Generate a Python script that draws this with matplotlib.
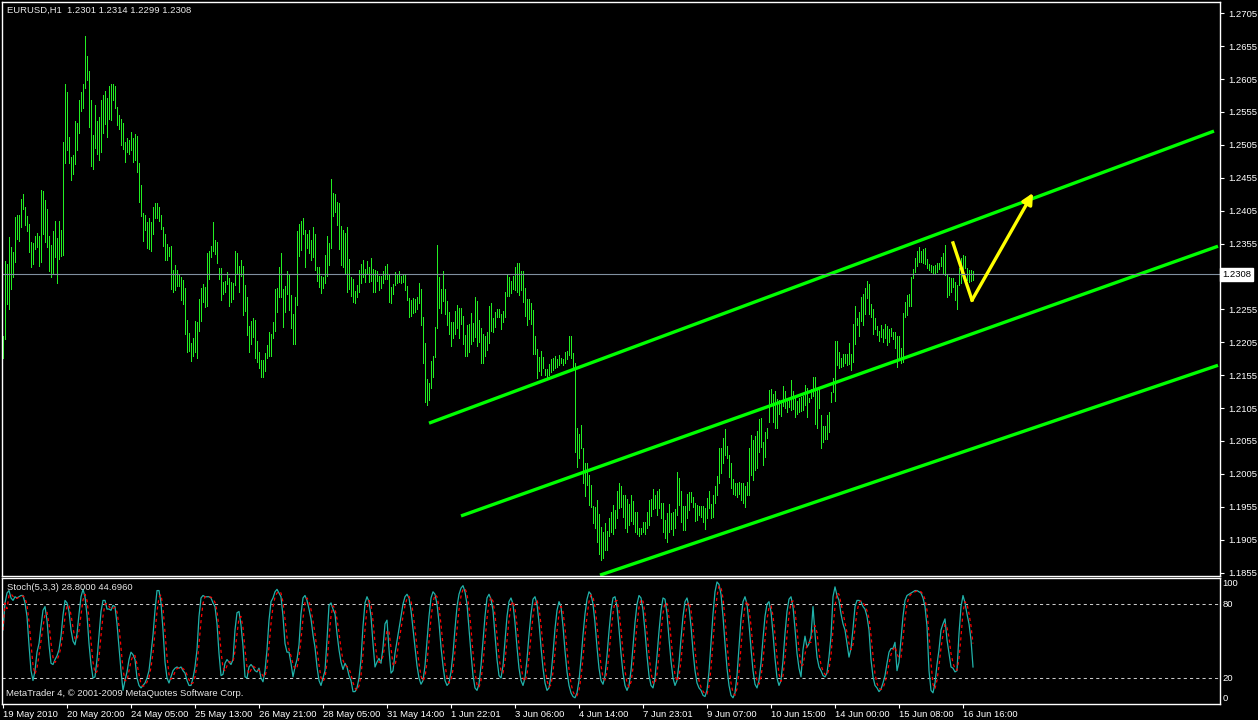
import numpy as np
import matplotlib
matplotlib.use("Agg")
import matplotlib.pyplot as plt

# hourly bars, EURUSD H1, 19 May - 16 Jun 2010
high = [
    1.2214, 1.2328, 1.2324, 1.2365, 1.2350, 1.2342, 1.2395, 1.2398, 1.2398, 1.2422,
    1.2430, 1.2410, 1.2397, 1.2385, 1.2357, 1.2356, 1.2366, 1.2371, 1.2366, 1.2436,
    1.2435, 1.2421, 1.2407, 1.2366, 1.2353, 1.2374, 1.2389, 1.2363, 1.2389, 1.2375,
    1.2509, 1.2597, 1.2585, 1.2517, 1.2486, 1.2489, 1.2541, 1.2538, 1.2573, 1.2585,
    1.2597, 1.2670, 1.2640, 1.2617, 1.2573, 1.2520, 1.2565, 1.2541, 1.2547, 1.2573,
    1.2581, 1.2587, 1.2576, 1.2594, 1.2597, 1.2597, 1.2594, 1.2562, 1.2550, 1.2544,
    1.2538, 1.2509, 1.2515, 1.2512, 1.2524, 1.2515, 1.2521, 1.2518, 1.2477, 1.2444,
    1.2401, 1.2398, 1.2388, 1.2394, 1.2388, 1.2410, 1.2416, 1.2416, 1.2410, 1.2398,
    1.2380, 1.2369, 1.2354, 1.2350, 1.2351, 1.2315, 1.2322, 1.2315, 1.2307, 1.2304,
    1.2299, 1.2287, 1.2239, 1.2219, 1.2204, 1.2211, 1.2237, 1.2236, 1.2270, 1.2287,
    1.2293, 1.2289, 1.2340, 1.2343, 1.2351, 1.2388, 1.2360, 1.2357, 1.2318, 1.2318,
    1.2296, 1.2298, 1.2312, 1.2302, 1.2296, 1.2295, 1.2343, 1.2340, 1.2321, 1.2330,
    1.2321, 1.2292, 1.2274, 1.2230,
    1.2237, 1.2242, 1.2239, 1.2207, 1.2190, 1.2178, 1.2178, 1.2188, 1.2201, 1.2220,
    1.2217, 1.2236, 1.2286, 1.2287, 1.2319, 1.2340, 1.2286, 1.2290, 1.2313, 1.2307,
    1.2277, 1.2248, 1.2274, 1.2374, 1.2385, 1.2389, 1.2394, 1.2375, 1.2369, 1.2375,
    1.2360, 1.2380, 1.2369, 1.2319, 1.2319, 1.2305, 1.2304, 1.2337, 1.2366, 1.2356,
    1.2453, 1.2432, 1.2430, 1.2418, 1.2416, 1.2381, 1.2375, 1.2371, 1.2380, 1.2331,
    1.2304, 1.2301, 1.2283, 1.2292, 1.2315, 1.2324, 1.2330, 1.2316, 1.2328, 1.2319,
    1.2333, 1.2316, 1.2315, 1.2313, 1.2305, 1.2305, 1.2313, 1.2321, 1.2324, 1.2307,
    1.2289, 1.2293, 1.2312, 1.2307, 1.2313, 1.2305, 1.2307, 1.2307, 1.2290, 1.2272,
    1.2269, 1.2272, 1.2270, 1.2274, 1.2295, 1.2286, 1.2243, 1.2204, 1.2149, 1.2143,
    1.2176, 1.2184, 1.2228, 1.2353, 1.2304, 1.2286, 1.2313, 1.2286, 1.2267, 1.2251,
    1.2236, 1.2236, 1.2252, 1.2261, 1.2257, 1.2257, 1.2245, 1.2216, 1.2231, 1.2233,
    1.2249, 1.2234, 1.2274, 1.2267, 1.2239, 1.2226, 1.2217, 1.2214, 1.2220, 1.2260,
    1.2264, 1.2242, 1.2251, 1.2255, 1.2255,
    1.2248, 1.2252, 1.2281, 1.2307, 1.2304, 1.2298, 1.2305, 1.2319, 1.2325, 1.2325,
    1.2313, 1.2313, 1.2287, 1.2270, 1.2270, 1.2264, 1.2254, 1.2214, 1.2195, 1.2182,
    1.2191, 1.2182, 1.2164, 1.2164, 1.2172, 1.2179, 1.2181, 1.2184, 1.2179, 1.2185,
    1.2181, 1.2179, 1.2190, 1.2191, 1.2214, 1.2214, 1.2188, 1.2173, 1.2074, 1.2065,
    1.2079, 1.2044, 1.2021, 1.2021, 1.2003, 1.1988, 1.1956, 1.1954, 1.1965, 1.1944,
    1.1924, 1.1916, 1.1930, 1.1918, 1.1938, 1.1947, 1.1957, 1.1950, 1.1979, 1.1991,
    1.1986, 1.1973, 1.1973, 1.1967, 1.1959, 1.1973, 1.1963, 1.1947, 1.1947, 1.1922,
    1.1922, 1.1932, 1.1932, 1.1947, 1.1965, 1.1967, 1.1982, 1.1973, 1.1979, 1.1982,
    1.1960, 1.1960, 1.1935, 1.1945, 1.1959, 1.1945, 1.1947, 1.1951, 1.2008, 1.1998,
    1.1979, 1.1956, 1.1956, 1.1974, 1.1977, 1.1977, 1.1970, 1.1960, 1.1957, 1.1956,
    1.1956, 1.1956, 1.1953, 1.1968, 1.1979, 1.1959, 1.1973, 1.1986, 1.2001, 1.2044,
    1.2044, 1.2059, 1.2073, 1.2047, 1.2033, 1.2021, 1.1997, 1.1991, 1.1991, 1.1992,
    1.1991, 1.1991, 1.1986, 1.1992, 1.2044,
    1.2064, 1.2056, 1.2062, 1.2070, 1.2088, 1.2090, 1.2053, 1.2068, 1.2074, 1.2132,
    1.2134, 1.2126, 1.2131, 1.2118, 1.2117, 1.2117, 1.2138, 1.2131, 1.2120, 1.2120,
    1.2147, 1.2131, 1.2120, 1.2115, 1.2120, 1.2122, 1.2123, 1.2140, 1.2135, 1.2120,
    1.2134, 1.2152, 1.2152, 1.2132, 1.2135, 1.2094, 1.2077, 1.2077, 1.2094, 1.2099,
    1.2129, 1.2150, 1.2207, 1.2207, 1.2190, 1.2181, 1.2187, 1.2187, 1.2187, 1.2204,
    1.2187, 1.2233, 1.2260, 1.2242, 1.2251, 1.2274, 1.2278, 1.2287, 1.2298, 1.2293,
    1.2263, 1.2255, 1.2242, 1.2230, 1.2222, 1.2231, 1.2225, 1.2233, 1.2230, 1.2225,
    1.2226, 1.2220, 1.2220, 1.2214, 1.2214, 1.2196, 1.2249, 1.2266, 1.2277, 1.2278,
    1.2304, 1.2316, 1.2333, 1.2343, 1.2350, 1.2343, 1.2347, 1.2348, 1.2331, 1.2324,
    1.2322, 1.2321, 1.2322, 1.2325, 1.2325, 1.2334, 1.2340, 1.2353, 1.2307, 1.2304,
    1.2302, 1.2302, 1.2296, 1.2292, 1.2318, 1.2333, 1.2337, 1.2336, 1.2318, 1.2315,
    1.2315, 1.2314,
]

low = [
    1.2181, 1.2210, 1.2263, 1.2255, 1.2286, 1.2304, 1.2327, 1.2362, 1.2359, 1.2380,
    1.2407, 1.2383, 1.2374, 1.2342, 1.2319, 1.2324, 1.2347, 1.2350, 1.2321, 1.2327,
    1.2369, 1.2357, 1.2350, 1.2313, 1.2304, 1.2310, 1.2334, 1.2295, 1.2331, 1.2336,
    1.2337, 1.2477, 1.2497, 1.2477, 1.2451, 1.2460, 1.2476, 1.2497, 1.2523, 1.2556,
    1.2561, 1.2591, 1.2603, 1.2532, 1.2473, 1.2468, 1.2500, 1.2491, 1.2482, 1.2494,
    1.2523, 1.2537, 1.2517, 1.2544, 1.2543, 1.2573, 1.2561, 1.2535, 1.2529, 1.2505,
    1.2499, 1.2479, 1.2494, 1.2491, 1.2497, 1.2479, 1.2482, 1.2464, 1.2418, 1.2397,
    1.2359, 1.2375, 1.2348, 1.2347, 1.2343, 1.2369, 1.2394, 1.2394, 1.2389, 1.2377,
    1.2351, 1.2330, 1.2330, 1.2336, 1.2286, 1.2281, 1.2284, 1.2290, 1.2290, 1.2269,
    1.2263, 1.2217, 1.2190, 1.2191, 1.2176, 1.2184, 1.2190, 1.2181, 1.2222, 1.2237,
    1.2266, 1.2258, 1.2260, 1.2301, 1.2334, 1.2343, 1.2339, 1.2325, 1.2301, 1.2269,
    1.2278, 1.2281, 1.2293, 1.2260, 1.2266, 1.2270, 1.2292, 1.2310, 1.2281, 1.2305,
    1.2246, 1.2252, 1.2216, 1.2190,
    1.2202, 1.2213, 1.2181, 1.2175, 1.2166, 1.2152, 1.2152, 1.2161, 1.2181, 1.2184,
    1.2184, 1.2211, 1.2222, 1.2251, 1.2274, 1.2274, 1.2228, 1.2251, 1.2278, 1.2254,
    1.2226, 1.2202, 1.2202, 1.2261, 1.2336, 1.2345, 1.2369, 1.2319, 1.2348, 1.2340,
    1.2330, 1.2334, 1.2315, 1.2298, 1.2289, 1.2280, 1.2287, 1.2295, 1.2305, 1.2322,
    1.2348, 1.2397, 1.2403, 1.2383, 1.2347, 1.2322, 1.2319, 1.2310, 1.2281, 1.2286,
    1.2275, 1.2266, 1.2264, 1.2274, 1.2281, 1.2295, 1.2304, 1.2296, 1.2310, 1.2296,
    1.2298, 1.2281, 1.2281, 1.2298, 1.2284, 1.2287, 1.2295, 1.2301, 1.2301, 1.2266,
    1.2264, 1.2278, 1.2292, 1.2295, 1.2296, 1.2295, 1.2296, 1.2284, 1.2269, 1.2243,
    1.2245, 1.2249, 1.2251, 1.2255, 1.2264, 1.2231, 1.2173, 1.2114, 1.2109, 1.2117,
    1.2135, 1.2152, 1.2182, 1.2226, 1.2257, 1.2249, 1.2267, 1.2248, 1.2231, 1.2217,
    1.2199, 1.2211, 1.2217, 1.2226, 1.2211, 1.2233, 1.2202, 1.2184, 1.2184, 1.2190,
    1.2202, 1.2207, 1.2213, 1.2199, 1.2205, 1.2173, 1.2173, 1.2184, 1.2193, 1.2204,
    1.2222, 1.2220, 1.2228, 1.2243, 1.2243,
    1.2225, 1.2236, 1.2243, 1.2275, 1.2275, 1.2280, 1.2286, 1.2284, 1.2281, 1.2277,
    1.2284, 1.2266, 1.2245, 1.2231, 1.2240, 1.2233, 1.2187, 1.2187, 1.2150, 1.2161,
    1.2155, 1.2166, 1.2155, 1.2152, 1.2155, 1.2160, 1.2163, 1.2166, 1.2167, 1.2170,
    1.2173, 1.2170, 1.2173, 1.2179, 1.2185, 1.2181, 1.2166, 1.2038, 1.2015, 1.2029,
    1.2044, 1.1991, 1.1971, 1.1988, 1.1957, 1.1954, 1.1930, 1.1922, 1.1901, 1.1883,
    1.1874, 1.1877, 1.1889, 1.1889, 1.1910, 1.1916, 1.1913, 1.1922, 1.1938, 1.1953,
    1.1954, 1.1939, 1.1922, 1.1916, 1.1927, 1.1933, 1.1929, 1.1916, 1.1913, 1.1910,
    1.1913, 1.1916, 1.1913, 1.1922, 1.1927, 1.1941, 1.1951, 1.1953, 1.1942, 1.1953,
    1.1938, 1.1916, 1.1907, 1.1901, 1.1916, 1.1921, 1.1912, 1.1922, 1.1942, 1.1957,
    1.1932, 1.1919, 1.1919, 1.1938, 1.1950, 1.1962, 1.1954, 1.1933, 1.1935, 1.1942,
    1.1939, 1.1932, 1.1921, 1.1938, 1.1953, 1.1938, 1.1939, 1.1960, 1.1973, 1.1991,
    1.2006, 1.2021, 1.2033, 1.2029, 1.2000, 1.1983, 1.1974, 1.1973, 1.1970, 1.1974,
    1.1965, 1.1960, 1.1954, 1.1973, 1.1973,
    1.2003, 1.1995, 1.2011, 1.2014, 1.2038, 1.2046, 1.2018, 1.2030, 1.2059, 1.2084,
    1.2108, 1.2084, 1.2074, 1.2074, 1.2096, 1.2093, 1.2108, 1.2105, 1.2099, 1.2106,
    1.2102, 1.2103, 1.2091, 1.2096, 1.2099, 1.2100, 1.2102, 1.2109, 1.2091, 1.2114,
    1.2120, 1.2123, 1.2081, 1.2074, 1.2105, 1.2044, 1.2053, 1.2058, 1.2058, 1.2068,
    1.2114, 1.2129, 1.2115, 1.2170, 1.2166, 1.2167, 1.2169, 1.2173, 1.2170, 1.2172,
    1.2163, 1.2175, 1.2202, 1.2231, 1.2214, 1.2237, 1.2231, 1.2248, 1.2272, 1.2248,
    1.2243, 1.2217, 1.2225, 1.2216, 1.2207, 1.2213, 1.2205, 1.2211, 1.2201, 1.2205,
    1.2214, 1.2210, 1.2196, 1.2167, 1.2181, 1.2173, 1.2175, 1.2243, 1.2246, 1.2260,
    1.2260, 1.2302, 1.2312, 1.2321, 1.2327, 1.2327, 1.2325, 1.2324, 1.2318, 1.2315,
    1.2312, 1.2309, 1.2309, 1.2312, 1.2316, 1.2321, 1.2309, 1.2307, 1.2274, 1.2277,
    1.2281, 1.2289, 1.2269, 1.2255, 1.2292, 1.2295, 1.2302, 1.2318, 1.2299, 1.2296,
    1.2298, 1.2299,
]

# Stoch(5,3,3) main line (%K), one value per bar
stoch_k = [
    59, 81, 89, 91, 85, 83, 86, 85, 86, 87, 87, 81, 70, 47, 26, 18, 26, 41, 48, 62,
    75, 78, 67, 47, 32, 31, 35, 38, 43, 54, 71, 83, 81, 74, 59, 50, 47, 56, 72, 86,
    92, 86, 71, 48, 31, 20, 21, 35, 54, 74, 83, 83, 76, 76, 75, 79, 78, 64, 45, 26,
    10, 18, 25, 35, 41, 39, 35, 20, 14, 12, 14, 16, 20, 26, 40, 55, 75, 91, 91, 81,
    59, 33, 20, 16, 21, 26, 28, 29, 28, 29, 26, 24, 18, 14, 14, 20, 29, 43, 70, 85,
    87, 86, 86, 86, 85, 81, 78, 64, 40, 22, 23, 32, 35, 33, 31, 35, 59, 73, 74, 63,
    46, 21, 20, 29, 31, 29, 26, 25, 28, 20, 17, 26, 43, 67, 82, 85, 90, 92, 89, 86,
    70, 48, 41, 41, 32, 21, 29, 35, 47, 72, 85, 87, 83, 76, 68, 55, 45, 29, 18, 14,
    20, 26, 51, 79, 81, 76, 72, 56, 43, 33, 27, 32, 29, 22, 18, 9, 9, 12, 20, 35,
    62, 81, 86, 82, 70, 48, 29, 33, 36, 32, 45, 64, 67, 43, 24, 26, 40, 50, 60,
    70, 80, 86, 88, 85, 75, 60, 45, 30, 20, 15, 18, 30, 50, 70,
    85, 90, 88, 80, 65, 45, 30, 18, 14, 16, 25, 40, 60, 78, 88,
    93, 95, 90, 80, 60, 40, 22, 12, 10, 15, 30, 50, 70, 85, 88,
    84, 75, 55, 35, 22, 20, 30, 50, 70, 82, 85, 80, 65, 45, 28,
    18, 14, 20, 35, 55, 72, 84, 86, 80, 65, 45, 28, 16, 10, 12,
    22, 40, 60, 75, 82, 78, 62, 42, 25, 14, 8, 5, 4, 8, 18,
    35, 55, 72, 84, 90, 88, 80, 65, 45, 28, 18, 15, 22, 38, 58,
    75, 85, 86, 78, 60, 40, 24, 14, 10, 14, 26, 45, 65, 80, 87,
    85, 75, 58, 38, 22, 14, 12, 20, 38, 58, 75, 85, 84, 72, 52,
    34, 20, 14, 18, 32, 52, 70, 82, 85, 78, 62, 42, 26, 16, 12,
    10, 6, 5, 10, 25, 48, 72, 90, 98, 96, 88, 70, 48, 28, 14,
    6, 4, 8, 22, 45, 68, 82, 86, 80, 64, 44, 26, 15, 12, 18,
    32, 52, 70, 80, 82, 74, 56, 36, 20, 14, 18, 34, 56, 74, 84,
    86, 78, 60, 40, 28,
    21, 43, 54, 45, 48, 54, 78, 56, 37, 29, 26, 22, 21, 24, 37, 54, 86, 94, 87, 83,
    72, 64, 59, 48, 37, 44, 60, 78, 83, 83, 82, 78, 76, 70, 59, 35, 21, 14, 12, 9,
    11, 16, 22, 32, 41, 44, 44, 49, 26, 33, 51, 70, 83, 87, 88, 89, 90, 91, 91, 90,
    89, 85, 78, 62, 26, 10, 8, 16, 31, 43, 59, 64, 68, 51, 40, 29, 28, 25, 26, 56,
    78, 87, 81, 72, 64, 51, 29,
]

# drawn objects: channel lines (bar index, price) and the yellow projection
channels = [
    [(213, 1.2082), (605.5, 1.2526)],
    [(229, 1.1941), (607.5, 1.2351)],
    [(298.5, 1.1851), (607.5, 1.2170)],
]
proj_bar = [475, 484.5, 515]
proj_price = [1.2356, 1.2269, 1.2432]

last_price = 1.2308
price_ticks = np.round(np.arange(1.1855, 1.2706, 0.005), 4)
time_labels = ["19 May 2010", "20 May 20:00", "24 May 05:00", "25 May 13:00",
               "26 May 21:00", "28 May 05:00", "31 May 14:00", "1 Jun 22:01",
               "3 Jun 06:00", "4 Jun 14:00", "7 Jun 23:01", "9 Jun 07:00",
               "10 Jun 15:00", "14 Jun 00:00", "15 Jun 08:00", "16 Jun 16:00"]

FONT = "Liberation Sans"
FS = 6.8
W, H = 1258, 720

fig = plt.figure(figsize=(W / 100, H / 100), dpi=100, facecolor="black")
ax = fig.add_axes([2 / W, 1 - 576 / H, 1218 / W, 574 / H], facecolor="black")
ax2 = fig.add_axes([2 / W, 1 - 704 / H, 1218 / W, 126 / H], facecolor="black")

n = min(len(high), len(low))
idx = np.arange(n)
ax.vlines(idx, low[:n], high[:n], color="#22ee22", lw=0.5, antialiased=False)

for (x0, y0), (x1, y1) in channels:
    ax.plot([x0, x1], [y0, y1], color="#00ff00", lw=2.4, solid_capstyle="butt")

ax.plot(proj_bar[:2], proj_price[:2], color="yellow", lw=2.4)
ax.annotate("", xy=(proj_bar[2], proj_price[2]), xytext=(proj_bar[1], proj_price[1]),
            arrowprops=dict(arrowstyle="-|>", color="yellow", lw=2.4,
                            mutation_scale=16, shrinkA=0, shrinkB=0))

ax.axhline(last_price, color="#8090a0", lw=0.8)

ax.set_xlim(-0.5, 608.5)
ax.set_ylim(1.18497, 1.27222)
ax.set_xticks([])
ax.yaxis.tick_right()
shown = [t for t in price_ticks if abs(t - 1.2305) > 1e-6]
ax.set_yticks(shown)
ax.set_yticklabels([f"{t:.4f}" for t in shown], fontsize=FS, color="white", family=FONT)
ax.tick_params(axis="y", colors="white", length=3, width=0.8, pad=3)
ax.text(1.0015, last_price, f"{last_price:.4f}", transform=ax.get_yaxis_transform(),
        ha="left", va="center", fontsize=FS, family=FONT, color="black",
        bbox=dict(facecolor="white", edgecolor="white", pad=1.2), clip_on=False)

# stochastic panel
k = np.array(stoch_k, dtype=float)
d = np.convolve(k, np.ones(3) / 3, mode="full")[:len(k)]
d[:2] = k[:2]
kx = np.arange(len(k))
ax2.axhline(80, color="#c8c8c8", lw=0.75, ls=(0, (3, 3)))
ax2.axhline(20, color="#c8c8c8", lw=0.75, ls=(0, (3, 3)))
ax2.plot(kx, k, color="#20b2aa", lw=0.9)
ax2.plot(kx, d, color="red", lw=0.9, ls=(0, (2.5, 2.5)))
ax2.set_xlim(-0.5, 608.5)
ax2.set_ylim(-1.05, 101.2)
ax2.set_yticks([])
ax2.set_xticks(np.arange(len(time_labels)) * 32)
ax2.set_xticklabels(time_labels, ha="left", fontsize=FS, family=FONT, color="white")
ax2.tick_params(axis="x", colors="white", length=3, width=0.8, pad=1)
for v, va in [(100, "top"), (80, "center"), (20, "center"), (0, "bottom")]:
    ax2.text(1.002, v, str(v), transform=ax2.get_yaxis_transform(), ha="left", va=va,
             fontsize=FS, family=FONT, color="white", clip_on=False)

for a in (ax, ax2):
    for s in a.spines.values():
        s.set_color("white")
        s.set_linewidth(1.0)

fig.text(7 / W, 1 - 10 / H, "EURUSD,H1  1.2301 1.2314 1.2299 1.2308",
         fontsize=FS, family=FONT, color="#e8e8e8", va="center", ha="left")
fig.text(7 / W, 1 - 588 / H, "Stoch(5,3,3) 28.8000 44.6960",
         fontsize=FS, family=FONT, color="#e8e8e8", va="center", ha="left")
fig.text(6 / W, 1 - 693 / H, "MetaTrader 4, \u00a9 2001-2009 MetaQuotes Software Corp.",
         fontsize=FS, family=FONT, color="#e8e8e8", va="center", ha="left")

fig.savefig("out.png", dpi=100, facecolor="black")
